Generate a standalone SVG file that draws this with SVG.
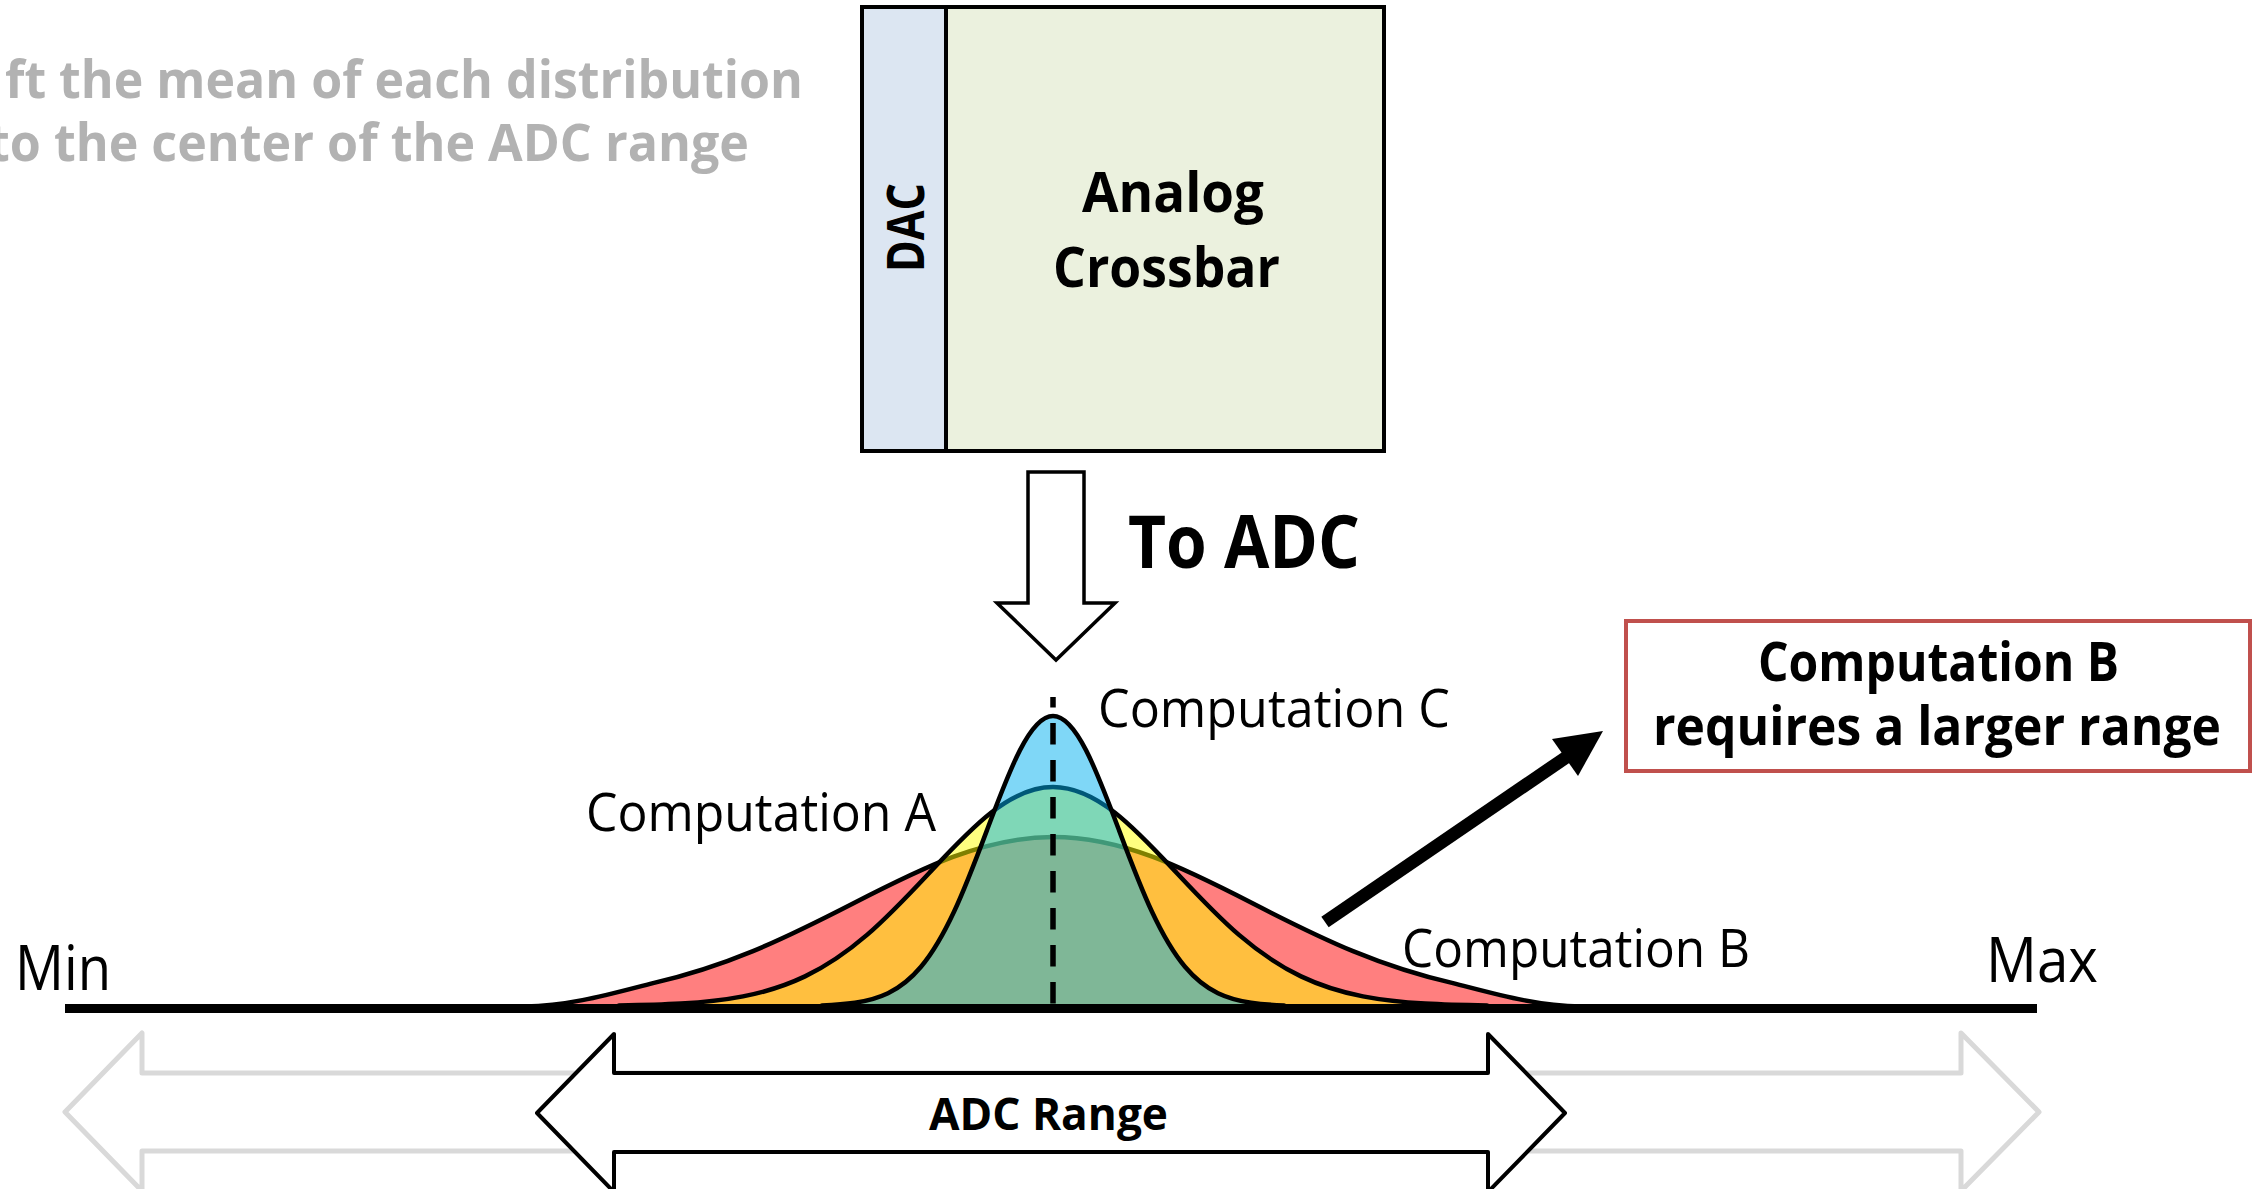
<svg xmlns="http://www.w3.org/2000/svg" width="2258" height="1189" viewBox="0 0 2258 1189">
<style>
.t{font-family:"Open Sans","Noto Sans","Liberation Sans",sans-serif;fill:#000}
.b{font-weight:bold}
.gray{fill:#B2B2B2;font-weight:bold}
.curve{stroke:#000;stroke-width:4.5;stroke-linejoin:round;fill-opacity:0.5}
.box{stroke:#000;stroke-width:4}
.hollow{fill:#fff;stroke:#000;stroke-width:3.5;stroke-linejoin:miter}
</style>
<rect width="2258" height="1189" fill="#fff"/>

<g id="note">
<text class="t gray" x="5" y="98" font-size="52" textLength="798" lengthAdjust="spacingAndGlyphs">ft the mean of each distribution</text>
<text class="t gray" x="-12" y="161" font-size="52" textLength="761" lengthAdjust="spacingAndGlyphs">to the center of the ADC range</text>
</g>

<g id="crossbar">
<rect class="box" x="862" y="7" width="84" height="444" fill="#DCE6F2"/>
<rect class="box" x="946" y="7" width="438" height="444" fill="#EBF1DE"/>
<text class="t b" font-size="52" transform="translate(924,272) rotate(-90)" x="0" y="0" textLength="89" lengthAdjust="spacingAndGlyphs">DAC</text>
<text class="t b" x="1082" y="212" font-size="56" textLength="182" lengthAdjust="spacingAndGlyphs">Analog</text>
<text class="t b" x="1053" y="287" font-size="56" textLength="227" lengthAdjust="spacingAndGlyphs">Crossbar</text>
</g>

<g id="to-adc">
<polygon class="hollow" points="1028,472 1084,472 1084,603 1115,603 1056,660 997,603 1028,603"/>
<text class="t b" x="1128" y="568" font-size="73" textLength="232" lengthAdjust="spacingAndGlyphs">To ADC</text>
</g>

<g id="range-arrows">
<polygon points="65,1112 142,1033 142,1073 1961,1073 1961,1033 2039,1112 1961,1191 1961,1151 142,1151 142,1191" fill="#fff" stroke="#D9D9D9" stroke-width="5" stroke-linejoin="round"/>
<polygon points="537,1113 614,1034 614,1073 1488,1073 1488,1034 1565,1113 1488,1192 1488,1152 614,1152 614,1192" fill="#fff" stroke="#000" stroke-width="4" stroke-linejoin="round"/>
<text class="t b" x="929" y="1130" font-size="45" textLength="239" lengthAdjust="spacingAndGlyphs">ADC Range</text>
</g>

<g id="distribution-b">
<path class="curve" fill="#FF0000" d="M 525 1006.5 C 570 1006 612 993.5 653 983.1 C 686.3 975.5 719.7 964.8 753 951.1 C 786.3 937.4 819.7 920.6 853 903.5 C 886.3 886.4 919.7 869.3 953 856.9 C 986.3 844.5 1019.7 837 1053 837 C 1086.3 837 1119.7 844.5 1153 856.9 C 1186.3 869.3 1219.7 886.4 1253 903.5 C 1286.3 920.6 1319.7 937.4 1353 951.1 C 1386.3 964.8 1419.7 975.5 1453 983.1 C 1494 993.5 1536 1006 1581 1006.5 L 1581 1008 L 525 1008 Z"/>
</g>
<g id="distribution-a">
<path class="curve" fill="#FFFF00" d="M 619 1005.5 C 639.7 1005.2 660.3 1004.8 681 1003.6 C 701.7 1002.4 722.3 1000.4 743 996.4 C 763.7 992.4 784.3 986.3 805 976.4 C 825.7 966.5 846.3 952.7 867 934.9 C 887.7 917.1 908.3 895.3 929 873.2 C 949.7 851.1 970.3 828.8 991 812.7 C 1011.7 796.6 1032.3 787 1053 787 C 1073.7 787 1094.3 796.6 1115 812.7 C 1135.7 828.8 1156.3 851.1 1177 873.2 C 1197.7 895.3 1218.3 917.1 1239 934.9 C 1259.7 952.7 1280.3 966.5 1301 976.4 C 1321.7 986.3 1342.3 992.4 1363 996.4 C 1383.7 1000.4 1404.3 1002.4 1425 1003.6 C 1445.7 1004.8 1466.3 1005.2 1487 1005.5 L 1487 1008 L 619 1008 Z"/>
</g>
<g id="distribution-c">
<path class="curve" fill="#00B0F0" d="M 822 1005.4 C 833 1005 844 1004.4 855 1002.8 C 866 1001.2 877 998.6 888 993.3 C 899 988 910 979.9 921 966.8 C 932 953.7 943 935.3 954 911.8 C 965 888.3 976 859.4 987 830.1 C 998 800.8 1009 771.4 1020 750.1 C 1031 728.8 1042 716 1053 716 C 1064 716 1075 728.8 1086 750.1 C 1097 771.4 1108 800.8 1119 830.1 C 1130 859.4 1141 888.3 1152 911.8 C 1163 935.3 1174 953.7 1185 966.8 C 1196 979.9 1207 988 1218 993.3 C 1229 998.6 1240 1001.2 1251 1002.8 C 1262 1004.4 1273 1005 1284 1005.4 L 1284 1008 L 822 1008 Z"/>
</g>

<g id="axis">
<line x1="1053" y1="697" x2="1053" y2="1006" stroke="#000" stroke-width="5.5" stroke-dasharray="21.5 15.5" stroke-dashoffset="11"/>
<rect x="65" y="1004" width="1972" height="9" fill="#000"/>
<text class="t" x="15" y="990" font-size="63" textLength="96" lengthAdjust="spacingAndGlyphs">Min</text>
<text class="t" x="1986" y="982" font-size="63" textLength="112" lengthAdjust="spacingAndGlyphs">Max</text>
</g>

<g id="labels">
<text class="t" x="1098" y="727" font-size="53" textLength="352" lengthAdjust="spacingAndGlyphs">Computation C</text>
<text class="t" x="586" y="831" font-size="53" textLength="350" lengthAdjust="spacingAndGlyphs">Computation A</text>
<text class="t" x="1402" y="967" font-size="53" textLength="348" lengthAdjust="spacingAndGlyphs">Computation B</text>
</g>

<g id="callout">
<rect x="1626" y="621" width="624" height="150" fill="#fff" stroke="#C0504D" stroke-width="4"/>
<text class="t b" x="1758" y="681" font-size="53" textLength="361" lengthAdjust="spacingAndGlyphs">Computation B</text>
<text class="t b" x="1653" y="745" font-size="53" textLength="568" lengthAdjust="spacingAndGlyphs">requires a larger range</text>
</g>

<g id="connectors">
<line x1="1325" y1="922" x2="1568" y2="756" stroke="#000" stroke-width="13"/>
<polygon points="1603,731 1552,739 1578,776" fill="#000"/>
</g>
</svg>
